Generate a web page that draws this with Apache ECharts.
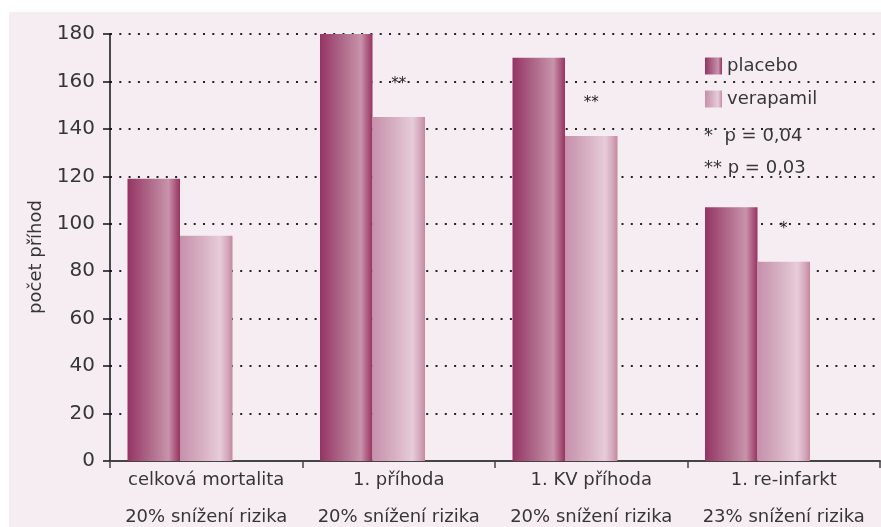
<!DOCTYPE html>
<html><head><meta charset="utf-8">
<script src="https://cdn.jsdelivr.net/npm/echarts@6/dist/echarts.min.js"></script>
<style>html,body{margin:0;padding:0;background:#fff}#c{width:881px;height:527px}</style>
</head><body><div id="c"></div>
<script>
var categories = ["celková mortalita", "1. příhoda", "1. KV příhoda", "1. re-infarkt"];
var subLabels = ["20% snížení rizika", "20% snížení rizika", "20% snížení rizika", "23% snížení rizika"];
var placebo = [119, 180, 170, 107];
var verapamil = [95, 145, 137, 84];
var significance = ["", "**", "**", "*"];
var yTicks = [0, 20, 40, 60, 80, 100, 120, 140, 160, 180];
var notes = ["*  p = 0,04", "** p = 0,03"];

var FONT = "DejaVu Sans";
var TXT = "#363636";

function grad(stops) {
  return new echarts.graphic.LinearGradient(0, 0, 1, 0, stops.map(function (s) { return { offset: s[0], color: s[1] }; }));
}
var gPlacebo = grad([[0, "#953464"], [0.45, "#b06c8c"], [0.78, "#c893aa"], [0.86, "#b76e90"], [1, "#96335f"]]);
var gVera = grad([[0, "#c690ab"], [0.45, "#d8b2c4"], [0.76, "#e6ccd9"], [0.9, "#d5a9bd"], [1, "#c6879f"]]);

var chart = echarts.init(document.getElementById("c"), null, { renderer: "canvas" });
chart.setOption({
  backgroundColor: "#ffffff",
  animation: false,
  graphic: [
    { type: "rect", z: -10, silent: true, shape: { x: 9, y: 12, width: 872, height: 515 }, style: { fill: "#f6edf3" } },
    { type: "text", z: 10, x: 36, y: 257, rotation: Math.PI / 2,
      style: { text: "počet příhod", font: "18px '" + FONT + "'", fill: TXT, textAlign: "center", textVerticalAlign: "middle" } },
    { type: "text", z: 10, left: 704, top: 127,
      style: { text: notes[0], font: "18px '" + FONT + "'", fill: TXT } },
    { type: "text", z: 10, left: 704, top: 159,
      style: { text: notes[1], font: "18px '" + FONT + "'", fill: TXT } }
  ],
  legend: {
    orient: "vertical", left: 700, top: 52,
    data: ["placebo", "verapamil"],
    itemWidth: 17, itemHeight: 17, itemGap: 15,
    icon: "rect",
    textStyle: { fontFamily: FONT, fontSize: 18, color: TXT, padding: [0, 0, 0, 0] }
  },
  grid: { left: 110, right: 1, top: 34, bottom: 66, containLabel: false },
  xAxis: {
    type: "category",
    data: categories,
    axisLine: { lineStyle: { color: "#444", width: 2 } },
    axisTick: { show: true, length: 7, lineStyle: { color: "#444", width: 1.5 } },
    axisLabel: {
      margin: 6,
      formatter: function (v, i) { return "{a|" + v + "}\n{b|" + subLabels[i] + "}"; },
      rich: {
        a: { fontFamily: FONT, fontSize: 18, color: TXT, lineHeight: 26 },
        b: { fontFamily: FONT, fontSize: 18, color: TXT, lineHeight: 48 }
      }
    }
  },
  yAxis: {
    type: "value", min: 0, max: 180, interval: 20,
    axisLine: { show: true, lineStyle: { color: "#111", width: 1.5 } },
    axisTick: { show: true, length: 7, lineStyle: { color: "#111", width: 1.5 } },
    axisLabel: { fontFamily: FONT, fontSize: 20, color: TXT, margin: 15,
      formatter: function (v) { return yTicks.indexOf(v) >= 0 ? String(v) : ""; } },
    splitLine: { show: true, lineStyle: { color: "#222", width: 2, type: [2, 7.3] } }
  },
  series: [
    { name: "placebo", type: "bar", data: placebo, barWidth: 52.5, barGap: "0%",
      itemStyle: { color: gPlacebo } },
    { name: "verapamil", type: "bar", data: verapamil, barWidth: 52.5, barGap: "0%",
      itemStyle: { color: gVera },
      label: { show: true, position: "top", distance: 25,
        formatter: function (p) { return significance[p.dataIndex]; },
        fontFamily: FONT, fontSize: 15, color: "#222" } },
    { name: "spacer", type: "bar", data: placebo.map(function () { return 0; }), barWidth: 52.5, barGap: "0%",
      itemStyle: { color: "transparent" }, silent: true }
  ]
});
</script></body></html>
